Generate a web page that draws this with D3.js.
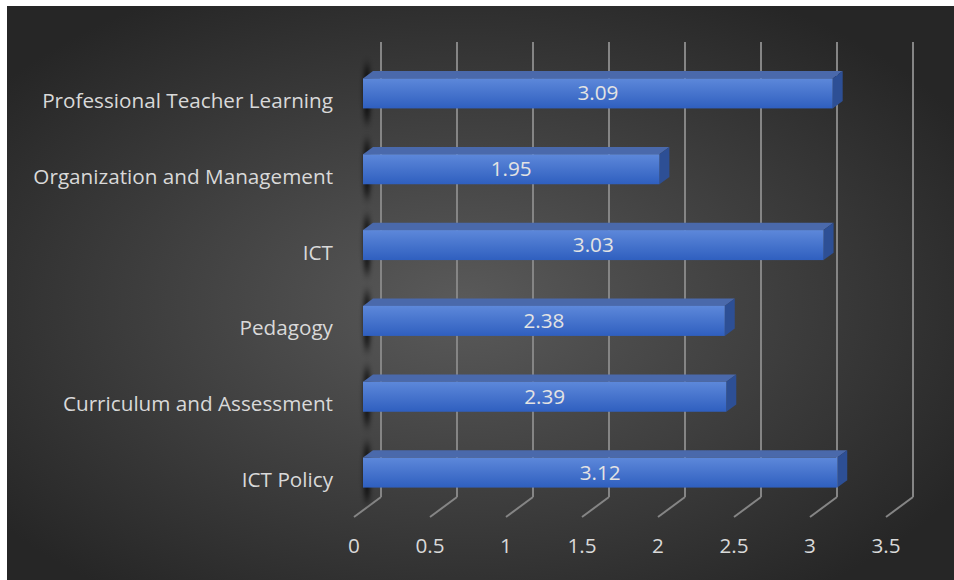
<!DOCTYPE html>
<html><head><meta charset="utf-8">
<script src="https://cdn.jsdelivr.net/npm/d3@7"></script>
<style>html,body{margin:0;padding:0;background:#fff;}svg{display:block;}</style>
</head><body>
<script>
const categories = ["Professional Teacher Learning","Organization and Management","ICT","Pedagogy","Curriculum and Assessment","ICT Policy"];
const values = [3.09, 1.95, 3.03, 2.38, 2.39, 3.12];
const tickValues = [0, 0.5, 1, 1.5, 2, 2.5, 3, 3.5];
const tickLabels = ["0","0.5","1","1.5","2","2.5","3","3.5"];

const W = 954, H = 580;
const svg = d3.select("body").append("svg").attr("width", W).attr("height", H);
const defs = svg.append("defs");

const bg = defs.append("radialGradient").attr("id","bg").attr("cx","48%").attr("cy","52%").attr("r","62%");
bg.append("stop").attr("offset","0%").attr("stop-color","#5a5a5a");
bg.append("stop").attr("offset","100%").attr("stop-color","#262626");

const front = defs.append("linearGradient").attr("id","front").attr("x1",0).attr("y1",0).attr("x2",0).attr("y2",1);
front.append("stop").attr("offset","0%").attr("stop-color","#5d88da");
front.append("stop").attr("offset","100%").attr("stop-color","#2f5fbf");

const blur = defs.append("filter").attr("id","blur").attr("x","-200%").attr("y","-50%").attr("width","500%").attr("height","200%");
blur.append("feGaussianBlur").attr("stdDeviation","2.5 5");

svg.append("rect").attr("x",7).attr("y",6).attr("width",W-7).attr("height",H-6).attr("fill","url(#bg)");

const x = d3.scaleLinear().domain([0,3.5]).range([381,913]);
const y = d3.scaleBand().domain(categories).range([42,497]).padding(0);
const floorDX = -27, floorDY = 20;
const barFX = -18, barFY = 13.5;
const depthX = 10, depthY = 7.3;
const barH = 30;

const grid = "#858585";
tickValues.forEach(t => {
  svg.append("line").attr("x1",x(t)).attr("x2",x(t)).attr("y1",42).attr("y2",497)
    .attr("stroke",grid).attr("stroke-width",2);
  svg.append("line").attr("x1",x(t)).attr("y1",497).attr("x2",x(t)+floorDX).attr("y2",497+floorDY)
    .attr("stroke",grid).attr("stroke-width",2);
});

const font = "'Open Sans', Lato, sans-serif";

// fit font size so the longest category label spans ~291px
const probe = svg.append("text").attr("font-family",font).attr("font-size",20).text(categories[0]);
const w20 = probe.node().getComputedTextLength() || 291;
probe.remove();
const fs = Math.max(16, Math.min(22, 20 * 291 / w20));

svg.selectAll("text.tick").data(tickValues).enter().append("text")
  .attr("class","tick")
  .attr("x", d => x(d)+floorDX)
  .attr("y", 553)
  .attr("text-anchor","middle")
  .attr("font-family",font).attr("font-size",fs).attr("fill","#d9d9d9")
  .text((d,i) => tickLabels[i]);

svg.selectAll("text.cat").data(categories).enter().append("text")
  .attr("class","cat")
  .attr("x", 333)
  .attr("y", d => y(d) + y.bandwidth()/2 + floorDY + 8)
  .attr("text-anchor","end")
  .attr("font-family",font).attr("font-size",fs).attr("fill","#d9d9d9")
  .text(d => d);

const data = categories.map((c,i) => ({c, v: values[i]}));
const bars = svg.selectAll("g.bar").data(data).enter().append("g").attr("class","bar");

function geom(d){
  const yt = y(d.c) + (y.bandwidth()-barH)/2 + barFY;
  const x0 = x(0) + barFX, x1 = x(d.v) + barFX;
  return {x0, x1, yt, yb: yt + barH};
}

bars.append("ellipse")
  .attr("cx", d => geom(d).x0 + 4)
  .attr("cy", d => geom(d).yt + barH/2)
  .attr("rx", 3).attr("ry", 30)
  .attr("fill","#000").attr("opacity",0.9)
  .attr("filter","url(#blur)");

bars.append("polygon")
  .attr("points", d => { const g = geom(d);
    return [[g.x0,g.yt],[g.x1,g.yt],[g.x1+depthX,g.yt-depthY],[g.x0+depthX,g.yt-depthY]].map(p=>p.join(",")).join(" "); })
  .attr("fill","#4a69ab");
bars.append("polygon")
  .attr("points", d => { const g = geom(d);
    return [[g.x1,g.yt],[g.x1+depthX,g.yt-depthY],[g.x1+depthX,g.yb-depthY],[g.x1,g.yb]].map(p=>p.join(",")).join(" "); })
  .attr("fill","#2d4f95");
bars.append("rect")
  .attr("x", d => geom(d).x0).attr("y", d => geom(d).yt)
  .attr("width", d => geom(d).x1 - geom(d).x0).attr("height", barH)
  .attr("fill","url(#front)");
bars.append("text")
  .attr("x", d => (geom(d).x0 + geom(d).x1)/2)
  .attr("y", d => geom(d).yt + barH/2 + 7)
  .attr("text-anchor","middle")
  .attr("font-family",font).attr("font-size",fs).attr("fill","#e3e3e3")
  .text(d => d.v.toFixed(2));
</script>
</body></html>
